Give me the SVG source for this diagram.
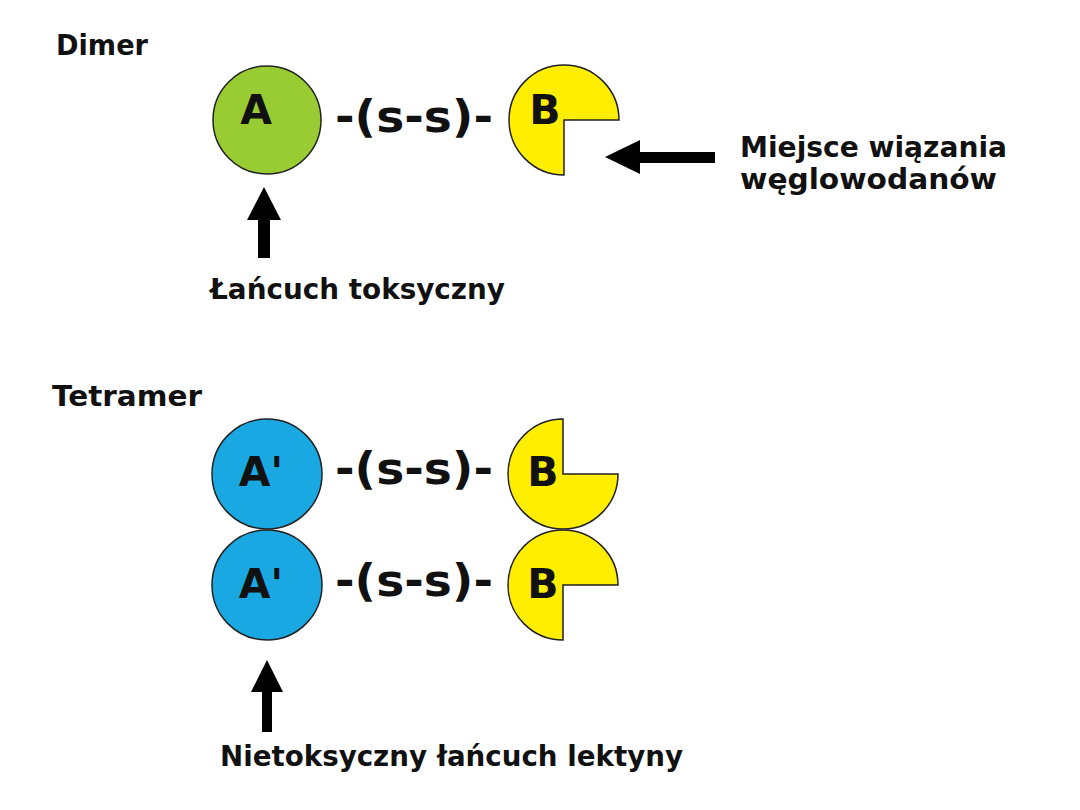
<svg xmlns="http://www.w3.org/2000/svg" width="1080" height="810" viewBox="0 0 1080 810">
<style>
.t{font-family:"DejaVu Sans","Liberation Sans",sans-serif;font-weight:bold;fill:#111}
.big{font-size:41px}
.link{font-size:45px}
.lab{font-size:28px}
.shape{stroke:#222;stroke-width:1.5}
.green{fill:#99CC33}
.blue{fill:#1AA8E2}
.yellow{fill:#FFEE00}
.arrow{fill:#000}
</style>
<rect width="1080" height="810" fill="#fff"/>
<text class="t lab" x="56" y="55" textLength="92" lengthAdjust="spacingAndGlyphs">Dimer</text>
<text class="t lab" x="52" y="406" textLength="150" lengthAdjust="spacingAndGlyphs">Tetramer</text>

<g id="dimerA">
<circle class="shape green" cx="267" cy="120" r="54"/>
<text class="t big" x="256" y="124" text-anchor="middle">A</text>
</g>
<g id="dimerLink">
<text class="t link" x="335" y="132" textLength="158" lengthAdjust="spacingAndGlyphs">-(s-s)-</text>
</g>
<g id="dimerB">
<path class="shape yellow" d="M564,120 L564,175 A55,55 0 1 1 619,120 Z"/>
<text class="t big" x="545" y="124" text-anchor="middle">B</text>
</g>

<g id="tetA1">
<circle class="shape blue" cx="267" cy="474" r="55"/>
<text class="t big" x="261" y="486" text-anchor="middle">A'</text>
</g>
<g id="tetLink1">
<text class="t link" x="335" y="484" textLength="158" lengthAdjust="spacingAndGlyphs">-(s-s)-</text>
</g>
<g id="tetB1">
<path class="shape yellow" d="M563,474 L618,474 A55,55 0 1 1 563,419 Z"/>
<text class="t big" x="543" y="486" text-anchor="middle">B</text>
</g>

<g id="tetA2">
<circle class="shape blue" cx="267" cy="585" r="55"/>
<text class="t big" x="261" y="598" text-anchor="middle">A'</text>
</g>
<g id="tetLink2">
<text class="t link" x="335" y="596" textLength="158" lengthAdjust="spacingAndGlyphs">-(s-s)-</text>
</g>
<g id="tetB2">
<path class="shape yellow" d="M563,585 L563,640 A55,55 0 1 1 618,585 Z"/>
<text class="t big" x="543" y="598" text-anchor="middle">B</text>
</g>

<g id="connectors">
<polygon class="arrow" points="605,157 640,140 640,152 715,152 715,163 640,163 640,174"/>
<polygon class="arrow" points="264,187 281,220 270,220 270,258 258,258 258,220 247,220"/>
<polygon class="arrow" points="267,660 283,692 272,692 272,732 262,732 262,692 251,692"/>
</g>

<g id="labelSite">
<text class="t lab" x="740" y="157" textLength="267" lengthAdjust="spacingAndGlyphs">Miejsce wiązania</text>
<text class="t lab" x="740" y="189" textLength="257" lengthAdjust="spacingAndGlyphs">węglowodanów</text>
</g>
<g id="labelToxic">
<text class="t lab" x="210" y="299" textLength="295" lengthAdjust="spacingAndGlyphs">Łańcuch toksyczny</text>
</g>
<g id="labelNontoxic">
<text class="t lab" x="220" y="766" textLength="463" lengthAdjust="spacingAndGlyphs">Nietoksyczny łańcuch lektyny</text>
</g>
</svg>
